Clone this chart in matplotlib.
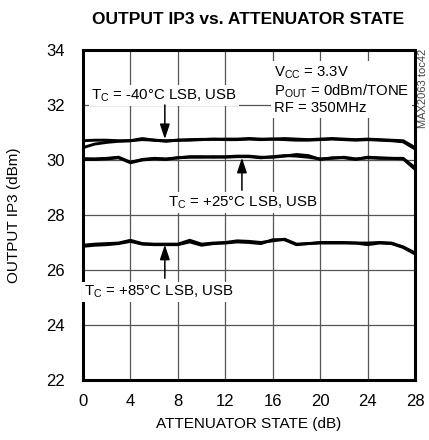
"""
Output IP3 vs. attenuator state
Recreates the datasheet curve plot (MAX2063 toc42)
"""

import matplotlib
matplotlib.use("Agg")
import matplotlib.pyplot as plt

# Data
atten_db = list(range(0, 29))

ip3_m40_lsb = [30.70, 30.72, 30.72, 30.70, 30.70, 30.78, 30.72, 30.68, 30.72, 30.74,
               30.75, 30.75, 30.76, 30.76, 30.78, 30.76, 30.76, 30.78, 30.76, 30.74,
               30.76, 30.78, 30.76, 30.74, 30.76, 30.74, 30.72, 30.70, 30.45]
ip3_m40_usb = [30.45, 30.58, 30.64, 30.68, 30.70, 30.74, 30.72, 30.70, 30.72, 30.72,
               30.74, 30.76, 30.74, 30.74, 30.76, 30.74, 30.76, 30.74, 30.72, 30.72,
               30.74, 30.76, 30.74, 30.72, 30.74, 30.72, 30.70, 30.66, 30.40]

ip3_p25_lsb = [30.05, 30.04, 30.06, 30.10, 29.92, 30.02, 30.06, 30.04, 30.08, 30.12,
               30.12, 30.10, 30.12, 30.14, 30.14, 30.10, 30.10, 30.14, 30.20, 30.16,
               30.02, 30.08, 30.08, 30.02, 30.10, 30.08, 30.06, 30.06, 29.72]
ip3_p25_usb = [30.02, 30.02, 30.04, 30.08, 29.90, 30.00, 30.04, 30.02, 30.08, 30.10,
               30.10, 30.12, 30.10, 30.12, 30.12, 30.08, 30.12, 30.16, 30.14, 30.10,
               30.04, 30.06, 30.10, 30.04, 30.08, 30.06, 30.06, 30.04, 29.66]

ip3_p85_lsb = [26.90, 26.94, 26.96, 26.98, 27.08, 26.96, 26.94, 26.94, 26.94, 27.08,
               26.94, 26.98, 27.00, 27.06, 27.04, 27.00, 27.06, 27.12, 26.94, 26.96,
               27.00, 27.00, 27.00, 26.98, 26.98, 27.00, 26.98, 26.84, 26.62]
ip3_p85_usb = [26.86, 26.90, 26.92, 26.96, 27.04, 26.94, 26.92, 26.92, 26.92, 27.02,
               26.90, 26.96, 26.98, 27.02, 27.00, 26.96, 27.10, 27.10, 26.92, 26.96,
               26.98, 26.98, 26.98, 26.98, 26.92, 26.98, 26.96, 26.82, 26.58]

x_ticks = [0, 4, 8, 12, 16, 20, 24, 28]
y_ticks = [22, 24, 26, 28, 30, 32, 34]

# No narrow Helvetica here, Liberation Sans is the closest match
plt.rcParams['font.family'] = ['Liberation Sans', 'DejaVu Sans']
plt.rcParams['mathtext.fontset'] = 'custom'
plt.rcParams['mathtext.rm'] = 'Liberation Sans'


def label_with_arrow(ax, text, text_xy, tail_xy, tip_xy):
    """Curve label on a white box plus a straight arrow to the curve"""
    ax.text(text_xy[0], text_xy[1], text, ha='center', va='center',
            fontsize=10.8, zorder=5,
            bbox=dict(facecolor='white', edgecolor='none', pad=1.5))
    ax.annotate('', xy=tip_xy, xytext=tail_xy, zorder=6,
                arrowprops=dict(arrowstyle='-|>,head_width=0.3,head_length=0.9',
                                color='black', lw=1.1, shrinkA=0, shrinkB=0))


def main():
    fig = plt.figure(figsize=(4.29, 4.40), dpi=100)
    ax = fig.add_axes([0.1935, 0.1364, 0.774, 0.75])

    for series in (ip3_m40_lsb, ip3_m40_usb, ip3_p25_lsb, ip3_p25_usb,
                   ip3_p85_lsb, ip3_p85_usb):
        ax.plot(atten_db, series, color='black', linewidth=2.1, zorder=3)

    ax.set_xlim(0, 28)
    ax.set_ylim(22, 34)
    ax.set_xticks(x_ticks)
    ax.set_yticks(y_ticks)
    ax.tick_params(length=0, labelsize=12)
    ax.tick_params(axis='y', pad=13)
    ax.tick_params(axis='x', pad=10)
    ax.grid(True, color='#555555', linewidth=0.9)
    ax.set_axisbelow(True)
    for sp in ax.spines.values():
        sp.set_linewidth(2.2)

    ax.set_xlabel('ATTENUATOR STATE (dB)', fontsize=11, labelpad=6)
    ax.set_ylabel('OUTPUT IP3 (dBm)', fontsize=11, labelpad=18)
    fig.text(0.578, 0.955, 'OUTPUT IP3 vs. ATTENUATOR STATE', ha='center', va='center',
             fontsize=12.5, fontweight='bold')

    # Conditions block
    ax.text(16.1, 32.55, '$\\mathregular{V_{CC}}$ = 3.3V\n$\\mathregular{P_{OUT}}$ = 0dBm/TONE\nRF = 350MHz',
            ha='left', va='center', fontsize=10.7, linespacing=1.1, zorder=5,
            bbox=dict(facecolor='white', edgecolor='none', pad=2))

    label_with_arrow(ax, '$\\mathregular{T_C}$ = -40°C LSB, USB',
                     (6.8, 32.35), (6.9, 32.0), (6.9, 30.76))
    label_with_arrow(ax, '$\\mathregular{T_C}$ = +25°C LSB, USB',
                     (13.5, 28.45), (13.4, 28.9), (13.4, 30.08))
    label_with_arrow(ax, '$\\mathregular{T_C}$ = +85°C LSB, USB',
                     (6.4, 25.2), (6.9, 25.7), (6.9, 26.92))

    fig.text(0.986, 0.80, 'MAX2063 toc42', rotation=90, ha='center', va='center',
             fontsize=8, color='#444444')

    fig.savefig('out.png', dpi=100)


if __name__ == "__main__":
    main()
